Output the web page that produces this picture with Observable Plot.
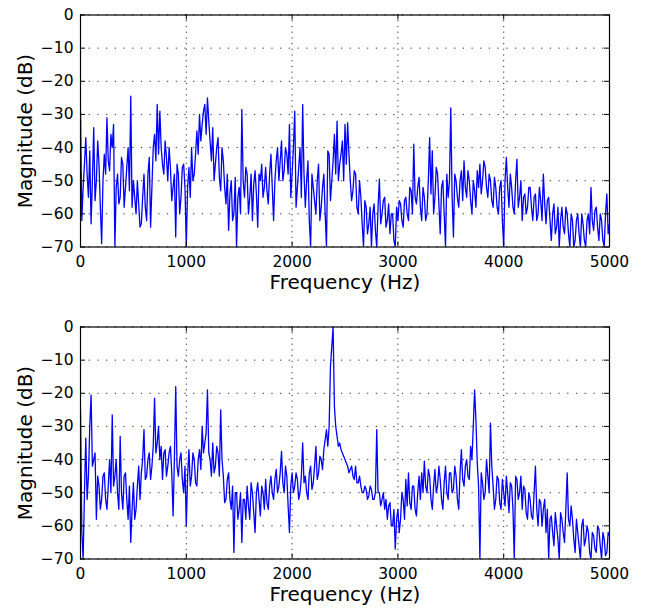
<!DOCTYPE html>
<html>
<head>
<meta charset="utf-8">
<script src="https://cdn.jsdelivr.net/npm/d3@7"></script>
<script src="https://cdn.jsdelivr.net/npm/@observablehq/plot@0.6"></script>
<style>
  html, body { margin: 0; padding: 0; background: #fff; }
  #chart { width: 649px; height: 608px; }
  #chart svg { display: block; }
</style>
</head>
<body>
<div id="chart"></div>
<script>
// Frequency bins (Hz): 12.5 Hz spacing from 0 to 5000
const binStep = 12.5;
const xTicks = [0, 1000, 2000, 3000, 4000, 5000];
const yTicks = [0, -10, -20, -30, -40, -50, -60, -70];
const xLabel = "Frequency (Hz)";
const yLabel = "Magnitude (dB)";

// Top panel magnitude (dB)
const topMag = [
  -29,-62, -52,-45, -37,-48, -55,-41, -63,-50, -34,-56, -50,-38, -45,-58, -69,-50, -42,-48,
  -31,-44, -47,-36, -40,-33, -70,-52, -48,-57, -55,-43, -45,-58, -52,-46, -40,-53, -24.5,-58,
  -50,-55, -60,-50, -57,-64, -63,-55, -48,-58, -62,-48, -43,-64, -52,-40, -36,-44, -27,-42,
  -29,-40, -45,-48, -38,-43, -50,-40, -46,-56, -52,-48, -67,-45, -48,-60, -55,-46, -45,-52,
  -70,-52, -46,-55, -40,-50, -48,-42, -35,-42, -30,-38, -33,-29, -27,-36, -25,-32, -38,-44,
  -34,-50, -45,-40, -37,-49, -53,-40, -44,-52, -57,-48, -65,-54, -50,-62, -60,-49, -70,-55,
  -52,-60, -28.5,-50, -55,-46, -48,-60, -55,-48, -62,-51, -47,-54, -64,-48, -50,-45, -55,-52,
  -46,-53, -57,-48, -42,-52, -62,-50, -44,-40, -50,-44, -38,-50, -47,-40, -42,-48, -33,-55,
  -48,-40, -29,-58, -52,-46, -40,-55, -27,-48, -58,-50, -44,-62, -70,-48, -52,-56, -60,-50,
  -45,-62, -58,-52, -48,-60, -70,-41, -42,-56, -50,-44, -36,-48, -32,-50, -45,-42, -38,-50,
  -33,-45, -32.5,-42, -50,-56, -53,-47, -48,-58, -60,-50, -55,-63, -70,-56, -58,-66, -63,-58,
  -70,-60, -57,-65, -70,-58, -49.5,-63, -60,-56, -55,-64, -62,-57, -66,-60, -60,-68, -70,-58,
  -62,-56, -57,-62, -64,-56, -55,-60, -62,-52, -53,-60, -39,-55, -57,-52, -49,-58, -62,-52,
  -55,-62, -60,-50, -37,-54, -41,-60, -55,-46, -48,-57, -66,-52, -50,-60, -70,-48, -55,-50,
  -28,-55, -67,-48, -50,-55, -58,-50, -47,-56, -44,-52, -55,-47, -50,-56, -60,-50, -53,-58,
  -47,-52, -45,-54, -50,-44, -46,-52, -55,-48, -50,-56, -58,-49, -52,-58, -60,-52, -50,-62,
  -70,-50, -43,-52, -58,-48, -52,-58, -60,-50, -43.5,-58, -55,-50, -62,-55, -54,-60, -58,-52,
  -52,-58, -62,-55, -54,-62, -60,-52, -56,-62, -48,-57, -63,-56, -55,-62, -68,-60, -57,-66,
  -64,-58, -70,-62, -58,-64, -66,-58, -60,-66, -70,-60, -62,-70, -68,-62, -60,-66, -70,-60,
  -63,-68, -70,-62, -60,-66, -52,-62, -65,-59, -58,-64, -68,-60, -62,-68, -70,-60, -54,-66,
  -63
];

// Bottom panel magnitude (dB)
const bottomMag = [
  -25,-62, -70,-50, -33.5,-52, -45,-30, -20.5,-42, -40,-38, -58,-45, -48,-55, -52,-45, -44,-52,
  -55,-48, -40,-50, -26.5,-48, -45,-40, -50,-55, -33,-50, -55,-45, -44,-52, -58,-48, -65,-55,
  -47,-58, -55,-48, -42,-52, -44,-40, -31,-46, -45,-40, -38,-46, -42,-36, -21.5,-38, -35,-30,
  -40,-36, -46,-38, -37,-45, -42,-38, -36,-44, -57,-40, -18,-42, -45,-40, -38,-46, -50,-42,
  -60,-45, -37,-48, -45,-38, -40,-47, -48,-40, -37,-43, -30,-38, -35,-32, -19,-38, -40,-45,
  -35,-44, -42,-36, -38,-45, -25,-40, -45,-53, -52,-46, -44,-52, -55,-48, -68,-50, -50,-58,
  -55,-50, -65,-52, -52,-58, -48,-54, -58,-47, -50,-56, -62,-50, -47,-52, -57,-48, -50,-55,
  -46,-53, -55,-48, -45,-50, -52,-46, -43,-50, -48,-44, -37.5,-47, -50,-42, -45,-54, -62,-48,
  -44,-50, -48,-44, -46,-52, -50,-45, -35,-47, -45,-50, -52,-44, -42,-49, -47,-42, -36,-46,
  -44,-39, -40,-43, -37,-34, -31,-36, -30,-12, -6,0, -24,-30, -33,-36, -35,-37, -38,-39,
  -40,-41, -42,-44, -43,-42, -45,-46, -42,-47, -47,-45, -48,-50, -50,-48, -49,-52, -51,-48,
  -49,-52, -52,-50, -31,-50, -50,-54, -52,-50, -55,-52, -58,-54, -53,-60, -60,-55, -67,-58,
  -55,-62, -58,-50, -52,-58, -46,-54, -44,-53, -55,-48, -48,-55, -57,-50, -45,-52, -44,-50,
  -40.5,-48, -50,-43, -45,-52, -55,-48, -43,-50, -48,-42, -46,-52, -55,-47, -42,-50, -52,-44,
  -44,-50, -49,-42, -45,-52, -55,-44, -37,-46, -48,-42, -40,-45, -46,-36, -40,-30, -19,-28,
  -41,-48, -70,-44, -47,-52, -50,-40, -45,-50, -29,-42, -48,-55, -52,-45, -46,-53, -55,-46,
  -50,-54, -45,-50, -56,-47, -48,-55, -70,-45, -46,-52, -50,-45, -55,-48, -49,-56, -58,-50,
  -52,-57, -58,-50, -42,-55, -60,-52, -53,-60, -55,-52, -62,-55, -70,-58, -57,-62, -66,-56,
  -60,-64, -70,-56, -58,-62, -65,-55, -44,-58, -60,-54, -58,-64, -68,-58, -62,-66, -70,-60,
  -58,-66, -64,-60, -62,-68, -70,-62, -63,-67, -68,-60, -61,-66, -70,-62, -64,-69, -68,-62,
  -63
];

const fmt = d => d < 0 ? "\u2212" + (-d) : String(d);

function panel(mags, height, marginTop, marginBottom) {
  const data = mags.map((m, i) => ({f: i * binStep, m}));
  const tickLenX = 5000 * 5 / 529;   // ~5px inward ticks in data units
  const tickLenY = 70 * 5 / 232;
  return Plot.plot({
    width: 649,
    height,
    marginLeft: 80,
    marginRight: 40,
    marginTop,
    marginBottom,
    x: {domain: [0, 5000]},
    y: {domain: [-70, 0]},
    style: {fontFamily: "'DejaVu Sans', sans-serif", fontSize: "15.5px", color: "#000", background: "#fff"},
    marks: [
      Plot.gridX(xTicks, {stroke: "#000", strokeOpacity: 0.85, strokeWidth: 1, strokeDasharray: "1.2,4.5"}),
      Plot.gridY(yTicks, {stroke: "#000", strokeOpacity: 0.85, strokeWidth: 1, strokeDasharray: "1.2,7.5"}),
      Plot.lineY(data, {x: "f", y: "m", stroke: "#0000ff", strokeWidth: 1.3, clip: true}),
      Plot.ruleX(xTicks, {y1: -70, y2: -70 + tickLenY, stroke: "#000"}),
      Plot.ruleX(xTicks, {y1: 0, y2: -tickLenY, stroke: "#000"}),
      Plot.ruleY(yTicks, {x1: 0, x2: tickLenX, stroke: "#000"}),
      Plot.ruleY(yTicks, {x1: 5000, x2: 5000 - tickLenX, stroke: "#000"}),
      Plot.frame({stroke: "#000", strokeWidth: 1.2}),
      Plot.axisX(xTicks, {tickSize: 0, tickPadding: 9, tickFormat: fmt, label: null, fontSize: 15.5}),
      Plot.axisY(yTicks, {tickSize: 0, tickPadding: 7, tickFormat: fmt, label: null, fontSize: 15.5}),
      Plot.text([xLabel], {frameAnchor: "bottom", dy: 36, lineAnchor: "middle", textAnchor: "middle", fontSize: 20, text: d => d}),
      Plot.text([yLabel], {frameAnchor: "left", dx: -55, rotate: -90, lineAnchor: "middle", textAnchor: "middle", fontSize: 20, text: d => d})
    ]
  });
}

const chart = document.getElementById("chart");
chart.appendChild(panel(topMag, 312, 14.5, 65.5));
chart.appendChild(panel(bottomMag, 296, 14.5, 49.5));
</script>
</body>
</html>
